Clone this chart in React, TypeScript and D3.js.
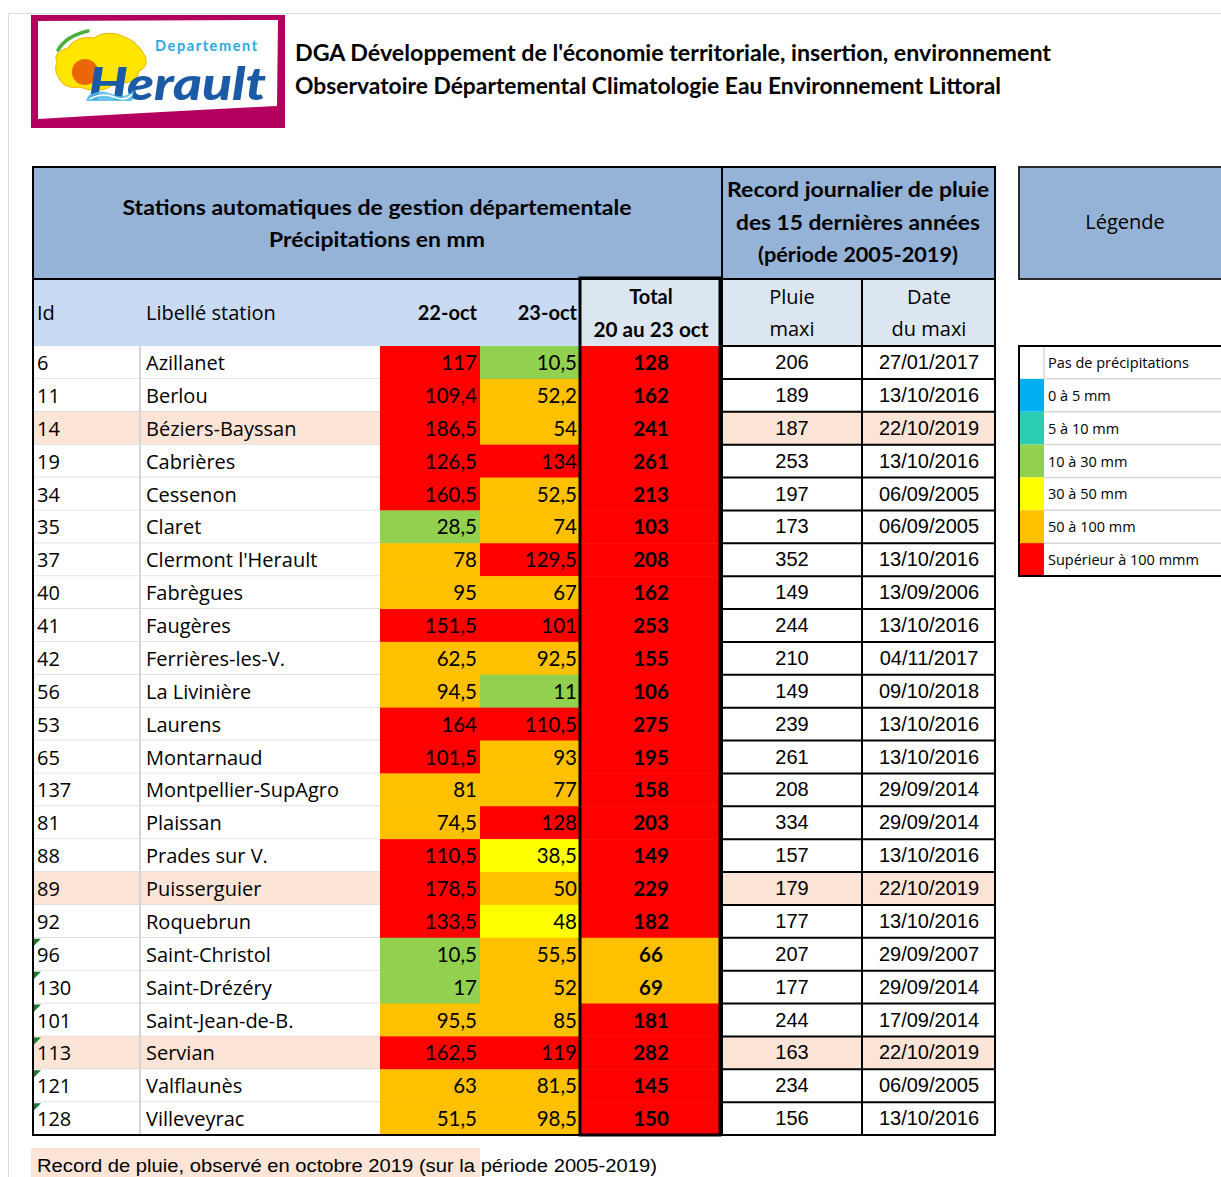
import * as d3 from 'd3'

// station table, 20-23 October 2019
const ids = ['6', '11', '14', '19', '34', '35', '37', '40', '41', '42', '56', '53', '65', '137', '81', '88', '89', '92', '96', '130', '101', '113', '121', '128']
const stations = ['Azillanet', 'Berlou', 'Béziers-Bayssan', 'Cabrières', 'Cessenon', 'Claret', "Clermont l'Herault", 'Fabrègues', 'Faugères', 'Ferrières-les-V.', 'La Livinière', 'Laurens', 'Montarnaud', 'Montpellier-SupAgro', 'Plaissan', 'Prades sur V.', 'Puisserguier', 'Roquebrun', 'Saint-Christol', 'Saint-Drézéry', 'Saint-Jean-de-B.', 'Servian', 'Valflaunès', 'Villeveyrac']
const oct22 = [117, 109.4, 186.5, 126.5, 160.5, 28.5, 78, 95, 151.5, 62.5, 94.5, 164, 101.5, 81, 74.5, 110.5, 178.5, 133.5, 10.5, 17, 95.5, 162.5, 63, 51.5]
const oct23 = [10.5, 52.2, 54, 134, 52.5, 74, 129.5, 67, 101, 92.5, 11, 110.5, 93, 77, 128, 38.5, 50, 48, 55.5, 52, 85, 119, 81.5, 98.5]
const totals = [128, 162, 241, 261, 213, 103, 208, 162, 253, 155, 106, 275, 195, 158, 203, 149, 229, 182, 66, 69, 181, 282, 145, 150]
const recordMax = [206, 189, 187, 253, 197, 173, 352, 149, 244, 210, 149, 239, 261, 208, 334, 157, 179, 177, 207, 177, 244, 163, 234, 156]
const recordDate = ['27/01/2017', '13/10/2016', '22/10/2019', '13/10/2016', '06/09/2005', '06/09/2005', '13/10/2016', '13/09/2006', '13/10/2016', '04/11/2017', '09/10/2018', '13/10/2016', '13/10/2016', '29/09/2014', '29/09/2014', '13/10/2016', '22/10/2019', '13/10/2016', '29/09/2007', '29/09/2014', '17/09/2014', '22/10/2019', '06/09/2005', '13/10/2016']
// stations whose record was set in October 2019
const recordIds = ['14', '89', '113']
// ids stored as text in the sheet (green corner flag)
const flaggedIds = ['96', '130', '101', '113', '121', '128']

const legendLabels = ['Pas de précipitations', '0 à 5 mm', '5 à 10 mm', '10 à 30 mm', '30 à 50 mm', '50 à 100 mm', 'Supérieur à 100 mmm']
const legendColors = ['#ffffff', '#00b0f0', '#2bccb1', '#92d050', '#ffff00', '#ffc000', '#ff0000']
const legendBreaks = [0.001, 5, 10, 30, 50, 100]

const titleLines = ["DGA Développement de l'économie territoriale, insertion, environnement", 'Observatoire Départemental Climatologie Eau Environnement Littoral']
const stationHeader = ['Stations automatiques de gestion départementale', 'Précipitations en mm']
const recordHeader = ['Record journalier de pluie', 'des 15 dernières années', '(période 2005-2019)']
const footnote = 'Record de pluie, observé en octobre 2019 (sur la période 2005-2019)'

const CAL = "Lato, 'Open Sans', sans-serif"
const SEG = "'Open Sans', 'Noto Sans', sans-serif"
const ARIAL = "'Liberation Sans', Arial, sans-serif"
const HIGHLIGHT = '#fce4d6'

const color = d3.scaleThreshold<number, string>().domain(legendBreaks).range(legendColors)
const fmt = (v: number) => String(v).replace('.', ',')

// column edges
const X = { left: 33, name: 140, d22: 380, d23: 480, tot: 580, totR: 720, max: 722, date: 862, right: 995 }
const TOP = 167
const HEAD2 = 279
const BODY = 346
const BOTTOM = 1135

function Logo() {
  return (
    <g>
      <rect x={31} y={15} width={254} height={113} fill="#b4005f" />
      <path d="M38,21 L278,20 L277,106 Q160,112 38,119 Z" fill="#fff" />
      <path d="M57,62 C53,55 60,50 68,48 C72,40 84,36 94,38 C102,32 116,32 124,37 C134,40 140,47 145,56 C148,63 145,69 139,71 L136,80 C126,84 116,82 108,88 C98,92 88,90 80,87 C70,89 61,85 59,78 C55,73 55,67 57,62 Z" fill="#ffe600" stroke="#f2b200" strokeWidth={1} />
      <circle cx={85} cy={72} r={13} fill="#ec6608" />
      <path d="M58,50 Q66,36 88,31" fill="none" stroke="#4caf3c" strokeWidth={3.5} strokeLinecap="round" />
      <text x={155} y={51} fontFamily={CAL} fontWeight={700} fontSize={14.5} fill="#29a9e1" letterSpacing={1.6}>Departement</text>
      <text x={88} y={100} fontFamily={CAL} fontWeight={900} fontStyle="italic" fontSize={45} fill="#1a5aa6" textLength={178} lengthAdjust="spacingAndGlyphs">Herault</text>
      <path d="M88,96 Q100,88 112,94 T134,90 L132,101 L86,101 Z" fill="#4fb8e8" opacity={0.85} />
      <path d="M90,99 Q102,92 114,97 T132,94" fill="none" stroke="#fff" strokeWidth={1.5} />
    </g>
  )
}

export default function App() {
  const y = d3.scaleBand<string>().domain(ids).range([BODY, BOTTOM])
  const h = y.bandwidth()
  const legendY = d3.scaleBand<string>().domain(legendLabels).range([BODY, 576])
  const lh = legendY.bandwidth()

  return (
    <div style={{ position: 'absolute', left: 0, top: 0 }}>
      <svg width={1221} height={1177} style={{ display: 'block' }}>
        <rect width={1221} height={1177} fill="#fff" />
        <path d="M1221,13.5 H8.5 V1177" fill="none" stroke="#dcdcdc" strokeWidth={1} />

        <Logo />
        {titleLines.map((t, i) => (
          <text key={t} x={295} y={61 + i * 33} fontFamily={CAL} fontWeight={700} fontSize={22} fill="#000"
            textLength={i === 0 ? 756 : 706} lengthAdjust="spacingAndGlyphs">{t}</text>
        ))}

        {/* header row 1 */}
        <rect x={X.left} y={TOP} width={X.right - X.left} height={HEAD2 - TOP} fill="#95b3d7" />
        {stationHeader.map((t, i) => (
          <text key={t} x={377} y={215 + i * 32} textAnchor="middle" fontFamily={CAL} fontWeight={700} fontSize={20}
            textLength={i === 0 ? 509 : 216} lengthAdjust="spacingAndGlyphs">{t}</text>
        ))}
        {recordHeader.map((t, i) => (
          <text key={t} x={858} y={197 + i * 32.5} textAnchor="middle" fontFamily={CAL} fontWeight={700} fontSize={20}
            textLength={[262, 244, 200][i]} lengthAdjust="spacingAndGlyphs">{t}</text>
        ))}

        {/* header row 2 */}
        <rect x={X.left} y={HEAD2} width={X.tot - X.left} height={BODY - HEAD2} fill="#c9dbf3" />
        <rect x={X.tot} y={HEAD2} width={X.right - X.tot} height={BODY - HEAD2} fill="#dce6f1" />
        <text x={37} y={320} fontFamily={SEG} fontSize={20}>Id</text>
        <text x={146} y={320} fontFamily={SEG} fontSize={20}>Libellé station</text>
        <text x={477} y={320} textAnchor="end" fontFamily={CAL} fontWeight={700} fontSize={20}>22-oct</text>
        <text x={577} y={320} textAnchor="end" fontFamily={CAL} fontWeight={700} fontSize={20}>23-oct</text>
        <text x={651} y={304} textAnchor="middle" fontFamily={CAL} fontWeight={700} fontSize={20}>Total</text>
        <text x={651} y={337} textAnchor="middle" fontFamily={CAL} fontWeight={700} fontSize={20} textLength={115} lengthAdjust="spacingAndGlyphs">20 au 23 oct</text>
        <text x={792} y={304} textAnchor="middle" fontFamily={SEG} fontSize={20}>Pluie</text>
        <text x={792} y={336} textAnchor="middle" fontFamily={SEG} fontSize={20}>maxi</text>
        <text x={929} y={304} textAnchor="middle" fontFamily={SEG} fontSize={20}>Date</text>
        <text x={929} y={336} textAnchor="middle" fontFamily={SEG} fontSize={20}>du maxi</text>

        {/* body */}
        {ids.map((id, i) => {
          const top = y(id) as number
          const hl = recordIds.includes(id)
          const base = top + 24
          return (
            <g key={id}>
              <rect x={X.left} y={top} width={X.d22 - X.left} height={h} fill={hl ? HIGHLIGHT : '#fff'} />
              <rect x={X.max} y={top} width={X.right - X.max} height={h} fill={hl ? HIGHLIGHT : '#fff'} />
              <line x1={X.left} x2={X.d22} y1={top + h} y2={top + h} stroke="#d6d6d6" strokeWidth={1.5} />
              <rect x={X.d22} y={top} width={X.d23 - X.d22} height={h + 0.5} fill={color(oct22[i])} />
              <rect x={X.d23} y={top} width={X.tot - X.d23} height={h + 0.5} fill={color(oct23[i])} />
              <rect x={X.tot} y={top} width={X.totR - X.tot} height={h + 0.5} fill={color(totals[i])} />
              {flaggedIds.includes(id) && <path d={`M${X.left + 1},${top + 1} h7 L${X.left + 1},${top + 8} Z`} fill="#1f7a2e" />}
              <text x={37} y={base} fontFamily={SEG} fontSize={20}>{id}</text>
              <text x={146} y={base} fontFamily={SEG} fontSize={20}>{stations[i]}</text>
              <text x={477} y={base} textAnchor="end" fontFamily={CAL} fontSize={20.5}>{fmt(oct22[i])}</text>
              <text x={577} y={base} textAnchor="end" fontFamily={CAL} fontSize={20.5}>{fmt(oct23[i])}</text>
              <text x={651} y={base} textAnchor="middle" fontFamily={CAL} fontWeight={700} fontSize={20.5}>{totals[i]}</text>
              <text x={792} y={base - 1} textAnchor="middle" fontFamily={ARIAL} fontSize={20}>{recordMax[i]}</text>
              <text x={929} y={base - 1} textAnchor="middle" fontFamily={ARIAL} fontSize={20}>{recordDate[i]}</text>
              <line x1={X.max} x2={X.right} y1={top} y2={top} stroke="#000" strokeWidth={2} />
            </g>
          )
        })}
        <line x1={X.name} x2={X.name} y1={BODY} y2={BOTTOM} stroke="#d6d6d6" strokeWidth={2} />

        {/* grid */}
        <line x1={X.max} x2={X.max} y1={TOP} y2={BOTTOM} stroke="#000" strokeWidth={2} />
        <line x1={X.date} x2={X.date} y1={HEAD2} y2={BOTTOM} stroke="#000" strokeWidth={2} />
        <line x1={X.left} x2={X.right} y1={HEAD2} y2={HEAD2} stroke="#000" strokeWidth={2} />
        <rect x={X.tot} y={HEAD2 - 1} width={X.totR - X.tot} height={BOTTOM - HEAD2 + 1} fill="none" stroke="#000" strokeWidth={3} />
        <rect x={X.left} y={TOP} width={X.right - X.left} height={BOTTOM - TOP} fill="none" stroke="#000" strokeWidth={2} />

        {/* legend */}
        <rect x={1019} y={TOP} width={210} height={HEAD2 - TOP} fill="#95b3d7" stroke="#2b2b2b" strokeWidth={2} />
        <text x={1125} y={229} textAnchor="middle" fontFamily={SEG} fontSize={20}>Légende</text>
        {legendLabels.map((lab, i) => {
          const top = legendY(lab) as number
          return (
            <g key={lab}>
              <rect x={1019} y={top} width={25} height={lh} fill={legendColors[i]} />
              {i > 0 && <line x1={1044} x2={1221} y1={top} y2={top} stroke="#d6d6d6" strokeWidth={1.5} />}
              <text x={1048} y={top + 22} fontFamily={SEG} fontSize={14.5}>{lab}</text>
            </g>
          )
        })}
        <line x1={1044} x2={1044} y1={BODY} y2={BODY + lh} stroke="#d6d6d6" strokeWidth={1.5} />
        <path d={`M1221,${BODY} H1019 V576 H1221`} fill="none" stroke="#000" strokeWidth={2} />

        {/* footnote */}
        <rect x={31} y={1148} width={449} height={29} fill={HIGHLIGHT} />
        <text x={37} y={1172} fontFamily={ARIAL} fontSize={18} textLength={620} lengthAdjust="spacingAndGlyphs">{footnote}</text>
      </svg>
    </div>
  )
}
